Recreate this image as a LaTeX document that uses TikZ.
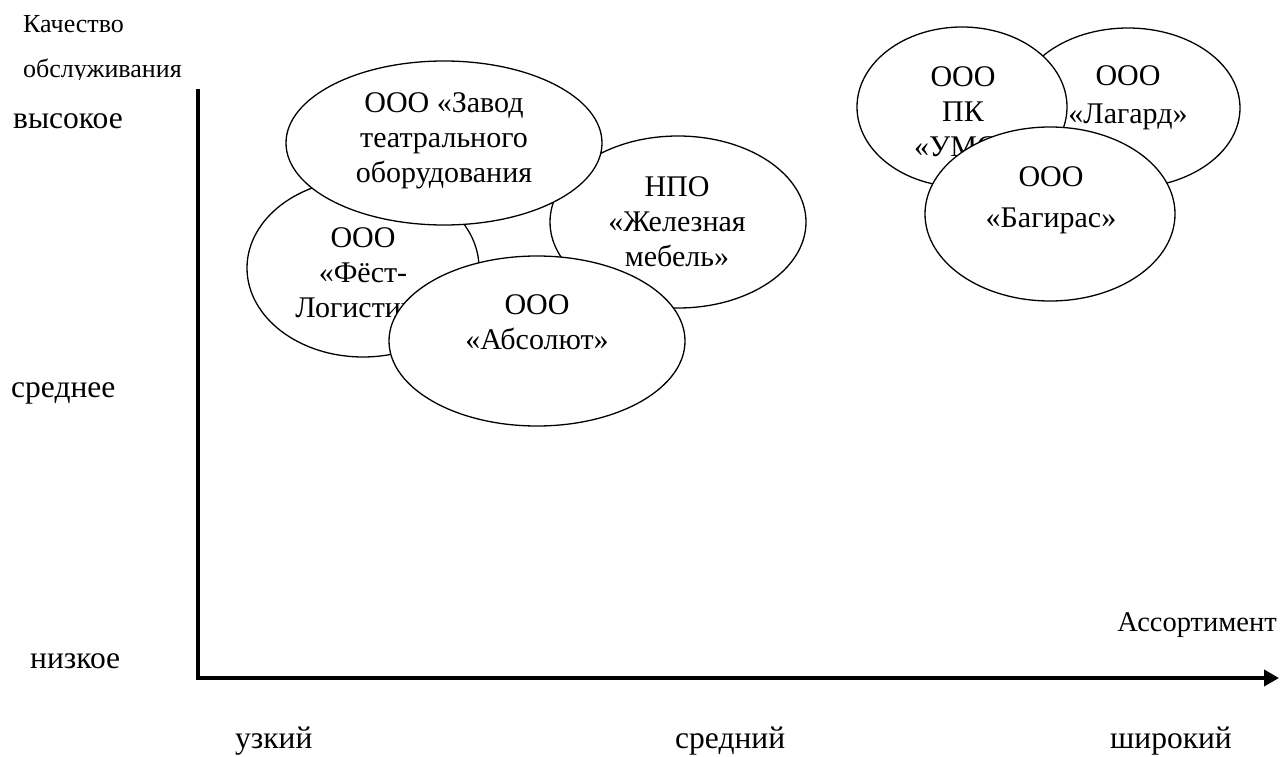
\documentclass[tikz,border=0pt]{standalone}
\usepackage{fontspec}
\setmainfont{Liberation Serif}
\usetikzlibrary{shapes.geometric,arrows.meta}
\begin{document}
\begin{tikzpicture}[x=1pt,y=-1pt,
  ell/.style={ellipse, draw, line width=1.3pt, fill=white, inner sep=0pt},
  etext/.style={align=center, font=\fontsize{30}{35}\selectfont, inner sep=0pt},
  lab/.style={anchor=base west, font=\fontsize{31.5}{35}\selectfont, inner sep=0pt},
  smalllab/.style={anchor=base west, font=\fontsize{26}{30}\selectfont, inner sep=0pt},
  axisline/.style={line width=4pt, line join=miter}
]
\useasboundingbox (0,0) rectangle (1280,757);

% axis labels
\node[smalllab] (q1) at (23,33) {Качество};
\begin{scope}
  \clip (0,40) rectangle (300,80);
  \node[smalllab] (q2) at (23,78) {обслуживания};
\end{scope}
\node[lab] (hi) at (13,129) {высокое};
\node[lab] (mid) at (11,397) {среднее};
\node[lab] (lo) at (30,668) {низкое};
\node[lab] (nar) at (235,748) {узкий};
\node[lab] (med) at (675,748) {средний};
\node[lab] (wid) at (1110,748) {широкий};
\node[smalllab, anchor=base east, font=\fontsize{28.5}{34}\selectfont] (ass) at (1277,631) {Ассортимент};

% axes
\coordinate (ytop) at (198,89);
\coordinate (orig) at (198,678);
\coordinate (xend) at (1279,678);
\draw[axisline, -{Triangle[length=15pt,width=16pt]}] (ytop) -- (orig) -- (xend);

% left group
\node[ell, minimum width=232, minimum height=178] (e1) at (363,268) {};
\node[etext] (t1) at (363,273) {ООО\\«Фёст-\\Логистик»};
\node[ell, minimum width=256, minimum height=172] (e2) at (678,222) {};
\node[etext] (t2) at (677,222) {НПО\\«Железная\\мебель»};
\node[ell, minimum width=316, minimum height=164] (e3) at (444,143) {};
\node[etext] (t3) at (444,141) {ООО «Завод\\театрального\\оборудования};
\node[ell, minimum width=296, minimum height=170] (e4) at (537,341) {};
\node[etext] (t4) at (537,322) {ООО\\«Абсолют»};

% right group
\node[ell, minimum width=224, minimum height=160] (e5) at (1128,108) {};
\node[etext, font=\fontsize{30}{38}\selectfont] (t5) at (1128,98) {ООО\\«Лагард»};
\node[ell, minimum width=210, minimum height=160] (e6) at (962,107) {};
\node[etext] (t6) at (963,112) {ООО\\ПК\\«УМС»};
\node[ell, minimum width=250, minimum height=174] (e7) at (1050,214) {};
\node[etext, font=\fontsize{30}{41}\selectfont] (t7) at (1051,200) {ООО\\«Багирас»};
\end{tikzpicture}
\end{document}
